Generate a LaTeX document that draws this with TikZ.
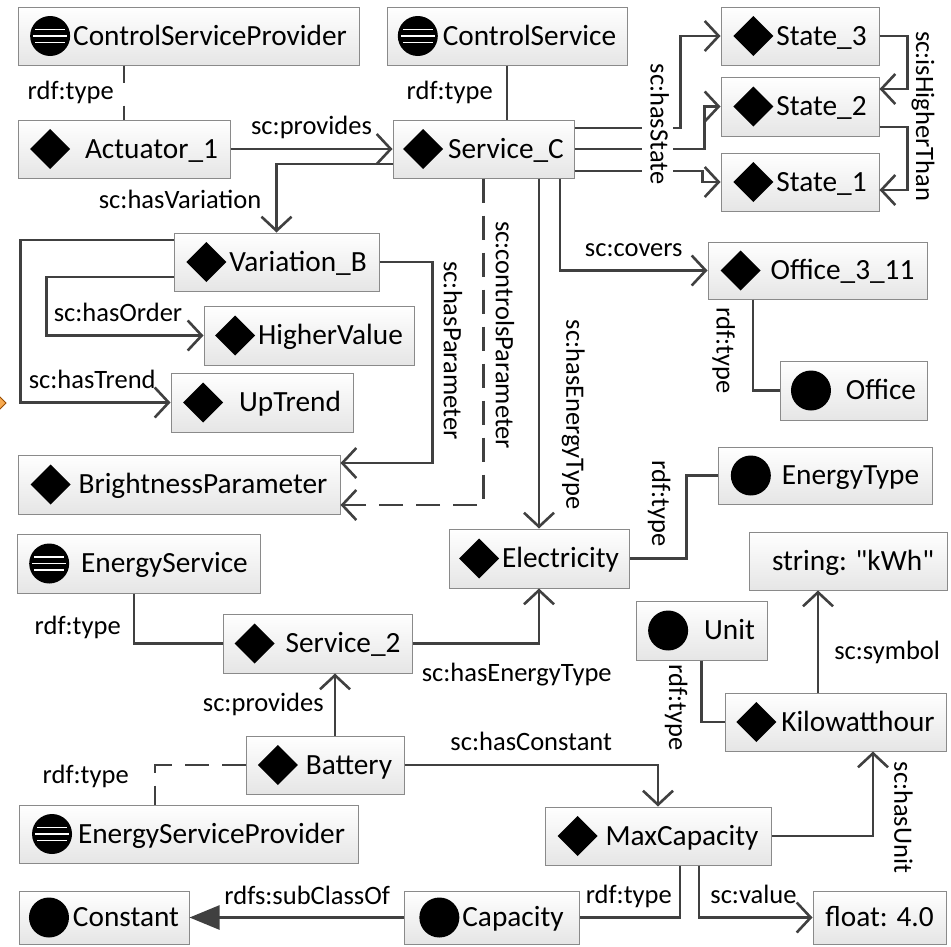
\documentclass[tikz,border=0pt]{standalone}
\usepackage{fontspec}
\setmainfont{Carlito}
\newfontfamily\litfont{Carlito}[Ligatures=ResetAll]
\usepackage{xcolor}
\usepackage{tikz}
\usetikzlibrary{calc}
\usetikzlibrary{positioning}
\usetikzlibrary{arrows.meta}

\definecolor{linegray}{HTML}{404040}
\definecolor{boxgray}{HTML}{8A8A8A}
\definecolor{frameorange}{RGB}{247,170,80}

\newcommand{\entfont}{\fontsize{29.3}{32}\selectfont}
\newcommand{\lblfont}{\fontsize{26.5}{29}\selectfont}

\newcommand{\iconI}[1]{\tikz[x=1pt,y=1pt,baseline=-9.4pt]\fill (0,0) -- (20,20) -- (40,0) -- (20,-20) -- cycle;\hspace{#1}}
\newcommand{\iconC}[1]{\tikz[x=1pt,y=1pt,baseline=-9.4pt]\fill (20,0) circle (20);\hspace{#1}}
\newcommand{\iconS}[1]{\tikz[x=1pt,y=1pt,baseline=-9.4pt]{\fill (20,0) circle (20); \draw[white, line width=1.6pt] (5,6.5) -- (35,6.5) (3,0) -- (37,0) (5,-6.5) -- (35,-6.5);}\hspace{#1}}

\begin{document}
\begin{tikzpicture}[x=1pt, y=-1pt,
  ent/.style={draw=boxgray, line width=1pt, top color=white, bottom color=black!10, minimum height=58pt, inner sep=0pt, text height=29.4pt, text depth=10.6pt, font=\entfont},
  rel/.style={draw=linegray, line width=2.6pt},
  arr/.style={rel, -{Straight Barb[length=14pt, width=30pt]}},
  rarr/.style={rel, {Straight Barb[length=14pt, width=30pt]}-},
  dash rel/.style={rel, dash pattern=on 24pt off 13pt},
  dash arr/.style={arr, dash pattern=on 24pt off 13pt},
  lbl/.style={font=\lblfont, inner sep=2pt, text height=19pt, text depth=6pt}]

\useasboundingbox (0,0) rectangle (951,946);

\draw [draw=orange!60!black, line width=1pt, fill=frameorange] (-14,383) -- (6,403) -- (-14,423) -- cycle;

\node (control service provider) [ent, minimum width=341pt] at (188.5,36) {\iconS{3pt}ControlServiceProvider};
\node (control service) [ent, minimum width=240pt] at (507,36) {\iconS{5pt}ControlService};
\node (actuator) [ent, minimum width=212pt] at (124,149) {\iconI{15pt}Actuator\_1};
\node (service c) [ent, minimum width=181pt] at (483.5,149) {\iconI{5pt}Service\_C};
\node (state 3) [ent, minimum width=158pt] at (800,36) {\iconI{3pt}State\_3};
\node (state 2) [ent, minimum width=158pt, minimum height=59pt] at (800,106.5) {\iconI{3pt}State\_2};
\node (state 1) [ent, minimum width=158pt] at (800,182) {\iconI{3pt}State\_1};
\node (variation b) [ent, minimum width=205pt] at (276.5,262) {\iconI{3pt}Variation\_B};
\node (higher value) [ent, minimum width=210pt, minimum height=59pt] at (309,335.5) {\iconI{3pt}HigherValue};
\node (up trend) [ent, minimum width=182pt, minimum height=59pt] at (262,402.5) {\iconI{16pt}UpTrend};
\node (brightness parameter) [ent, minimum width=322pt, minimum height=59pt] at (179,484.5) {\iconI{8pt}BrightnessParameter};
\node (office 3 11) [ent, minimum width=219pt, minimum height=57pt] at (817.5,270.5) {\iconI{10pt}Office\_3\_11};
\node (office) [ent, minimum width=147pt, minimum height=59pt] at (853.5,390.5) {\iconC{15pt}Office};
\node (energy type) [ent, minimum width=214pt, minimum height=57pt] at (825,475.5) {\iconC{11pt}EnergyType};
\node (electricity) [ent, minimum width=180pt, minimum height=59pt] at (539,558.5) {\iconI{3pt}Electricity};
\node (string kwh) [ent, minimum width=198pt] at (848,561) {\litfont\hspace*{10pt}string: "kWh"};
\node (unit) [ent, minimum width=131pt, minimum height=59pt] at (701.5,630.5) {\iconC{16pt}Unit};
\node (kilowatthour) [ent, minimum width=221pt] at (835.5,722) {\iconI{5pt}Kilowatthour};
\node (energy service) [ent, minimum width=243pt, minimum height=59pt] at (138.5,563.5) {\iconS{12pt}EnergyService};
\node (service 2) [ent, minimum width=189pt, minimum height=59pt] at (317.5,643.5) {\iconI{11pt}Service\_2};
\node (battery) [ent, minimum width=158pt] at (325,765) {\iconI{8pt}Battery};
\node (energy service provider) [ent, minimum width=339pt] at (188.5,834) {\iconS{6pt}EnergyServiceProvider};
\node (max capacity) [ent, minimum width=226pt] at (658,836) {\iconI{8pt}MaxCapacity};
\node (constant) [ent, minimum width=170pt, minimum height=53pt] at (104,917.5) {\iconC{4pt}Constant};
\node (capacity) [ent, minimum width=175pt, minimum height=53pt] at (491.5,917.5) {\iconC{3pt}Capacity};
\node (float) [ent, minimum width=133pt, minimum height=53pt] at (879.5,917.5) {float: 4.0};

\draw [dash rel, dash pattern=on 17pt off 23pt] (control service provider.south -| actuator.north) -- (actuator.north) node [lbl, midway, left=7pt] {rdf:type};
\draw [rel] (control service.south) -- (control service.south |- service c.north) node [lbl, midway, left=11pt] {rdf:type};
\draw [arr] (actuator.east) -- (service c.west) node [lbl, midway, above=5pt] {sc:provides};
\draw [arr] ([yshift=-15pt]service c.west) -| (variation b.north) node [lbl, pos=0.78, left=12pt] {sc:hasVariation};

\draw [arr] ([yshift=22pt]variation b.west) -| ([xshift=-150pt]up trend.west) -- (up trend.west) node [lbl, pos=0, anchor=south west, xshift=5pt, yshift=5pt] {sc:hasTrend};
\draw [arr] ([yshift=-15pt]variation b.west) -| ([xshift=-157pt]higher value.west) -- (higher value.west) node [lbl, pos=0, anchor=south west, xshift=4pt, yshift=5pt] {sc:hasOrder};
\draw [arr] (variation b.east) -- ++(53,0) |- ([yshift=21.5pt]brightness parameter.east) node [lbl, pos=0.22, sloped, above=2pt] {sc:hasParameter};
\draw [dash arr] (service c.south) |- ([yshift=-20.5pt]brightness parameter.east) node [lbl, pos=0.24, sloped, above=3pt] {sc:controlsParameter};
\draw [arr] (electricity.north |- service c.south) -- (electricity.north) node [lbl, pos=0.675, sloped, above=18pt] {sc:hasEnergyType};
\draw [arr] ([xshift=76.5pt]service c.south) |- (office 3 11.west) node [lbl, pos=0.75, above=5pt] {sc:covers};

\draw [arr] ([yshift=21pt]service c.east) -| ([xshift=-40pt]state 3.west) -- (state 3.west);
\draw [arr] (service c.east) -| ([xshift=-16pt]state 2.west) -- (state 2.west);
\draw [arr] ([yshift=-22pt]service c.east) -| ([xshift=-18pt]state 1.west) -- (state 1.west);
\path (service c.east) ++(82.5,-25) node [lbl, rotate=-90, fill=white, inner sep=3pt] {sc:hasState};

\draw [arr] (state 3.east) -- ++(28,0) |- ([yshift=17.5pt]state 2.east);
\draw [arr] ([yshift=-20.5pt]state 2.east) -- ++(28,0) |- ([yshift=-8pt]state 1.east);
\path (state 2.east) ++(43,9.5) node [lbl, rotate=-90] {sc:isHigherThan};

\draw [rel] ([xshift=-64.5pt]office 3 11.south) |- (office.west) node [lbl, pos=0.28, sloped, below=14pt] {rdf:type};
\draw [rel] (energy type.west) -- ++(-31,0) |- (electricity.east) node [lbl, pos=0.17, sloped, below=12pt] {rdf:type};
\draw [arr] ([xshift=-17.5pt]kilowatthour.north) -- ([xshift=-17.5pt]kilowatthour.north |- string kwh.south) node [lbl, pos=0.39, right=13pt] {sc:symbol};
\draw [rel] (unit.south) |- (kilowatthour.west) node [lbl, pos=0.38, sloped, below=10pt] {rdf:type};
\draw [rarr] ([xshift=37.5pt]kilowatthour.south) |- (max capacity.east) node [lbl, pos=0.39, sloped, above=12pt] {sc:hasUnit};

\draw [rel] ([xshift=-4.5pt]energy service.south) |- (service 2.west) node [lbl, pos=0.34, left=10pt] {rdf:type};
\draw [arr] (service 2.east) -| (electricity.south) node [lbl, pos=0, anchor=north west, xshift=6pt, yshift=-16pt] {sc:hasEnergyType};
\draw [arr] ([xshift=10pt]battery.north) -- ([xshift=10pt]battery.north |- service 2.south) node [lbl, midway, left=8pt] {sc:provides};
\draw [dash rel] (battery.west) -| ([xshift=-33.5pt]energy service provider.north) node [lbl, pos=0.65, left=23pt] {rdf:type};
\draw [arr] (battery.east) -| (max capacity.north) node [lbl, pos=0.25, above=5pt] {sc:hasConstant};

\draw [rel, -{Triangle[length=30pt, width=24pt]}] (capacity.west) -- (constant.east) node [lbl, pos=0.45, above=4pt] {rdfs:subClassOf};
\draw [rel] ([xshift=22pt]max capacity.south) |- (capacity.east) node [lbl, pos=0.755, above=4.5pt] {rdf:type};
\draw [arr] ([xshift=41pt]max capacity.south) |- (float.west) node [lbl, pos=0.74, above=5pt] {sc:value};

\end{tikzpicture}
\end{document}
